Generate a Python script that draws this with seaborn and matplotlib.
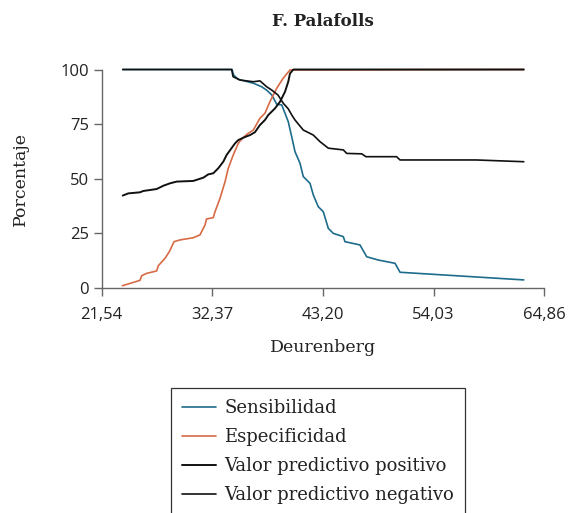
import matplotlib
matplotlib.use("Agg")
import matplotlib.pyplot as plt
import seaborn as sns
import pandas as pd

# ---- data ----
sens_x = [23.6, 34.3, 34.45, 34.9, 36.4, 37.2, 37.7, 38.2, 38.67, 39.16, 39.48, 39.8, 40.14, 40.46,
          40.95, 41.27, 41.93, 42.25, 42.74, 43.23, 43.72, 44.21, 45.19, 45.35, 46.82, 47.48, 48.61,
          50.25, 50.74, 62.85]
sens_y = [100, 100, 97.5, 95.5, 93.7, 92.1, 90.5, 88.3, 84.1, 83.8, 80, 76.1, 69.2, 62.4,
          57.1, 51, 47.9, 42.6, 37.2, 34.9, 27.3, 25, 23.5, 21.2, 19.7, 14.3, 12.8,
          11.3, 7.2, 3.7]

esp_x = [23.57, 25.29, 25.45, 25.94, 26.92, 27.08, 27.74, 28.16, 28.62, 29.2, 30.5, 31.16, 31.65,
         31.8, 32.46, 32.63, 33.12, 33.61, 33.93, 34.42, 34.91, 35.08, 35.73, 36.38, 37.03, 37.52,
         38.01, 38.67, 39.3, 39.97, 62.85]
esp_y = [1.05, 3.5, 5.6, 6.7, 7.8, 10.2, 13.6, 16.6, 21.2, 22, 23, 24.3, 28.8,
         31.6, 32.2, 34.9, 41, 48.6, 54.8, 60.9, 66.2, 67.3, 70.3, 72.3, 77.7, 80,
         85.3, 91.4, 96, 99.8, 100]

vpp_x = [23.6, 24.14, 25.29, 25.61, 26.92, 27.57, 28.22, 28.88, 30.5, 31.49, 31.97, 32.46, 32.95,
         33.44, 33.77, 34.59, 34.91, 35.4, 36.06, 36.54, 37.03, 37.52, 37.85, 38.5, 39.0, 39.48,
         39.8, 39.97, 40.3, 62.85]
vpp_y = [42.3, 43.3, 43.8, 44.4, 45.3, 46.8, 47.9, 48.7, 49, 50.5, 52, 52.5, 54.8,
         57.8, 60.9, 66.2, 67.7, 68.8, 70, 71.3, 74.6, 76.9, 79.2, 82.2, 85.3, 89.8,
         94.4, 98.2, 100, 100]

vpn_x = [23.6, 34.26, 34.4, 35.08, 36.38, 37.03, 37.69, 38.18, 38.8, 39.32, 39.8, 40.14, 40.46,
         41.27, 42.25, 42.9, 43.72, 45.19, 45.52, 47.0, 47.4, 50.4, 50.74, 58.2, 62.85]
vpn_y = [100, 100, 96.7, 95.2, 94.4, 94.8, 92.1, 90.6, 88.3, 84.5, 82, 79.2, 76.9,
         72.3, 70, 67, 64, 63.2, 61.6, 61.4, 60.1, 60.1, 58.6, 58.6, 57.8]

series_names = ["Sensibilidad", "Especificidad", "Valor predictivo positivo", "Valor predictivo negativo"]
series_colors = ["#1d6c8b", "#d76b45", "#111111", "#111111"]

x_ticks = [21.54, 32.37, 43.20, 54.03, 64.86]
x_tick_labels = ["21,54", "32,37", "43,20", "54,03", "64,86"]
y_ticks = [0, 25, 50, 75, 100]

title = "F. Palafolls"
x_label = "Deurenberg"
y_label = "Porcentaje"

# ---- plot ----
sns.set_style("ticks")
plt.rcParams["font.family"] = ["DejaVu Serif"]

fig = plt.figure(figsize=(5.69, 5.13), dpi=100)
ax = fig.add_axes([0.1787, 0.4386, 0.9566 - 0.1787, 0.8645 - 0.4386])

data = [(sens_x, sens_y), (esp_x, esp_y), (vpp_x, vpp_y), (vpn_x, vpn_y)]
widths = [1.2, 1.2, 1.4, 1.2]
for (xs, ys), name, col, lw in zip(data, series_names, series_colors, widths):
    df = pd.DataFrame({"x": xs, "y": ys})
    sns.lineplot(data=df, x="x", y="y", ax=ax, color=col, lw=lw, sort=False,
                 estimator=None, label=name, legend=False)
for ln in ax.get_lines():
    ln.set_clip_on(False)

ax.set_xlim(21.54, 64.86)
ax.set_ylim(0, 100)
ax.set_xticks(x_ticks)
ax.set_xticklabels(x_tick_labels)
ax.set_yticks(y_ticks)
for lab in ax.get_xticklabels() + ax.get_yticklabels():
    lab.set_fontfamily("Open Sans")
    lab.set_fontsize(12)
    lab.set_color("#222222")
ax.tick_params(axis="both", length=6, width=1, color="#666666")
ax.tick_params(axis="x", pad=8)
ax.tick_params(axis="y", pad=3)
for s in ["top", "right"]:
    ax.spines[s].set_visible(False)
for s in ["left", "bottom"]:
    ax.spines[s].set_color("#666666")
    ax.spines[s].set_linewidth(1)

ax.set_xlabel(x_label, fontsize=12.5, labelpad=11, color="#222222")
ax.set_ylabel(y_label, fontsize=12.5, labelpad=23, color="#222222")
ax.set_title(title, fontsize=12, fontweight="bold", pad=31, color="#222222")

handles, labels = ax.get_legend_handles_labels()
leg = fig.legend(handles, labels, loc="upper center", bbox_to_anchor=(318 / 569, 1 - 388 / 513),
                 fontsize=13, frameon=True, fancybox=False, edgecolor="black",
                 handlelength=1.9, handletextpad=0.45, labelspacing=0.62, borderpad=0.6,
                 borderaxespad=0)
leg.get_frame().set_linewidth(0.9)
for t in leg.get_texts():
    t.set_color("#222222")

fig.savefig("out.png", dpi=100)
